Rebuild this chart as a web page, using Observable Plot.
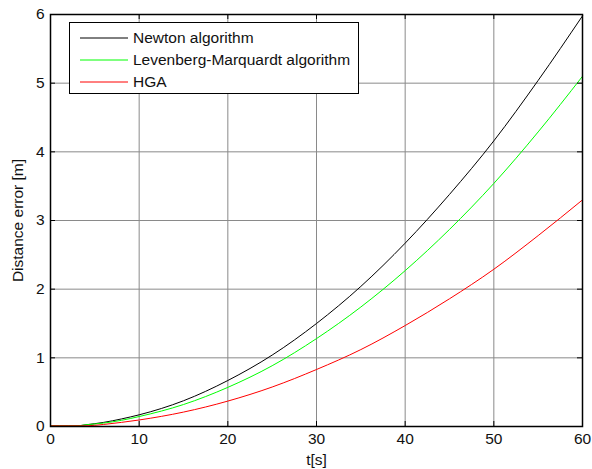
<!DOCTYPE html>
<html>
<head>
<meta charset="utf-8">
<script src="https://cdn.jsdelivr.net/npm/d3@7"></script>
<script src="https://cdn.jsdelivr.net/npm/@observablehq/plot@0.6"></script>
<style>
  html, body { margin: 0; padding: 0; background: #fff; }
  #wrap { position: relative; width: 592px; height: 469px; font-family: "Liberation Sans", Arial, sans-serif; }
  #legend { position: absolute; left: 69px; top: 22px; width: 290px; height: 72px; border: 1px solid #000; background: #fff; box-sizing: border-box; }
  .row { position: absolute; left: 0; height: 22px; display: flex; align-items: center; font-size: 15.5px; color: #111; white-space: nowrap; }
  .row svg { margin-left: 10px; margin-right: 5px; }
</style>
</head>
<body>
<div id="wrap"></div>
<script>
const t = [0, 2, 3, 4, 6, 8, 10, 15, 20, 25, 30, 35, 40, 45, 50, 55, 60];
const newton = [0.01, 0.01, 0.01, 0.025, 0.06, 0.11, 0.17, 0.375, 0.67, 1.04, 1.5, 2.04, 2.67, 3.38, 4.16, 5.04, 5.98];
const levenberg = [0.01, 0.01, 0.01, 0.025, 0.05, 0.09, 0.145, 0.32, 0.57, 0.885, 1.28, 1.74, 2.27, 2.87, 3.54, 4.29, 5.1];
const hga = [0.01, 0.01, 0.01, 0.01, 0.03, 0.06, 0.095, 0.21, 0.37, 0.575, 0.83, 1.12, 1.47, 1.86, 2.29, 2.78, 3.3];
const seriesNames = ["Newton algorithm", "Levenberg-Marquardt algorithm", "HGA"];
const seriesColors = ["#000000", "#00ff00", "#ff0000"];
const xTicks = [0, 10, 20, 30, 40, 50, 60];
const yTicks = [0, 1, 2, 3, 4, 5, 6];

const allSeries = [newton, levenberg, hga];
const data = [];
allSeries.forEach((vals, i) => vals.forEach((v, j) => data.push({t: t[j], v, s: seriesNames[i]})));

const W = 592, H = 469;
const mL = 50, mR = 10, mT = 14, mB = 43;
const plotH = H - mT - mB, plotW = W - mL - mR;

const chart = Plot.plot({
  width: W, height: H,
  marginLeft: mL, marginRight: mR, marginTop: mT, marginBottom: mB,
  style: {fontFamily: "'Liberation Sans', Arial, sans-serif", fontSize: "15.5px", color: "#111", background: "#fff"},
  x: {domain: [0, 60], label: null},
  y: {domain: [0, 6], label: null},
  color: {domain: seriesNames, range: seriesColors},
  marks: [
    Plot.ruleX(xTicks, {stroke: "#8a8a8a", strokeWidth: 1}),
    Plot.ruleY(yTicks, {stroke: "#8a8a8a", strokeWidth: 1}),
    Plot.line(data, {x: "t", y: "v", z: "s", stroke: "s", strokeWidth: 1, curve: "monotone-x"}),
    Plot.ruleX(xTicks, {stroke: "#000", insetTop: plotH - 5}),
    Plot.ruleX(xTicks, {stroke: "#000", insetBottom: plotH - 5}),
    Plot.ruleY(yTicks, {stroke: "#000", insetRight: plotW - 5}),
    Plot.ruleY(yTicks, {stroke: "#000", insetLeft: plotW - 5}),
    Plot.frame({stroke: "#000", strokeWidth: 1.5}),
    Plot.axisX(xTicks, {tickSize: 0, tickPadding: 6, tickFormat: d3.format("d"), label: "t[s]", labelAnchor: "center", labelArrow: "none", labelOffset: 38, fontSize: 15.5}),
    Plot.axisY(yTicks, {tickSize: 0, tickPadding: 6, tickFormat: d3.format("d"), label: "Distance error [m]", labelAnchor: "center", labelArrow: "none", labelOffset: 39, fontSize: 15.5})
  ]
});
const wrap = document.getElementById("wrap");
wrap.appendChild(chart);

const legend = document.createElement("div");
legend.id = "legend";
seriesNames.forEach((name, i) => {
  const row = document.createElement("div");
  row.className = "row";
  row.style.top = (4 + i * 22) + "px";
  row.innerHTML = `<svg width="48" height="4"><line x1="0" y1="2" x2="48" y2="2" stroke="${seriesColors[i]}" stroke-width="1"/></svg><span>${name}</span>`;
  legend.appendChild(row);
});
wrap.appendChild(legend);
</script>
</body>
</html>
